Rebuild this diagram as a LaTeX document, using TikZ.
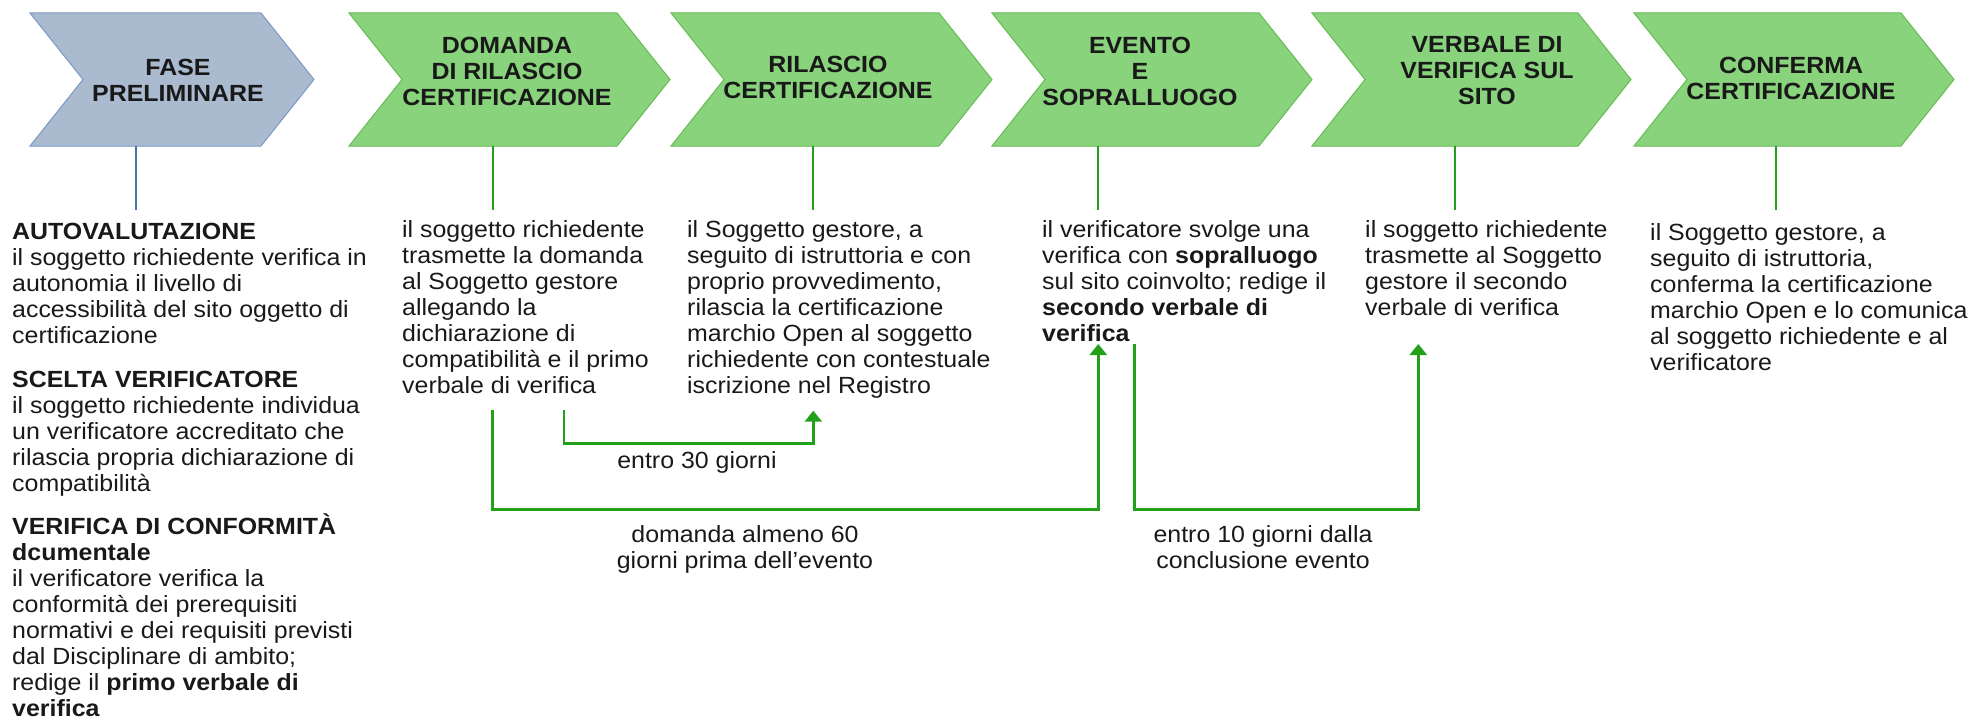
\documentclass[tikz,border=0pt]{standalone}
\usepackage{fontspec}
\setmainfont[FakeStretch=1.065]{Liberation Sans}
\usetikzlibrary{arrows.meta}
\definecolor{chgreen}{HTML}{88D37C}
\definecolor{chgreenb}{HTML}{66BB55}
\definecolor{chblue}{HTML}{AABBCF}
\definecolor{chblueb}{HTML}{7A98C2}
\definecolor{lblue}{HTML}{4A72A8}
\definecolor{lgreen}{HTML}{22A01A}
\newcommand{\bodyfont}{\fontsize{23.4}{26.1}\selectfont}
\newcommand{\leftblock}[1]{\parbox[t]{520pt}{\bodyfont\raggedright #1}}
\newcommand{\midblock}[1]{\parbox[t]{400pt}{\bodyfont\centering #1}}
\newcommand{\chevlabel}[1]{\parbox[t]{320pt}{\fontsize{23.4}{26}\selectfont\centering\bfseries #1}}
\tikzset{
  txt/.style={anchor=base west, inner sep=0pt, text=black!90},
  ctxt/.style={anchor=base, inner sep=0pt, text=black!90},
  chevgreen/.style={fill=chgreen, draw=chgreenb, line width=1pt},
  chevblue/.style={fill=chblue, draw=chblueb, line width=1pt},
  stemg/.style={draw=lgreen, line width=2.2pt},
  stemb/.style={draw=lblue, line width=2.2pt},
  conn/.style={draw=lgreen, line width=2.4pt, -{Triangle[length=11pt,width=17pt]}},
}
\newcommand{\chevpath}[2]{(#1,13) -- ({#1+#2-53},13) -- ({#1+#2},79.5) -- ({#1+#2-53},146) -- (#1,146) -- ({#1+53},79.5) -- cycle}
\begin{document}
\begin{tikzpicture}[x=1pt,y=-1pt]
\useasboundingbox (0,0) rectangle (1975,717);
% chevrons
\path[chevblue] \chevpath{30}{284};
\path[chevgreen] \chevpath{349}{321};
\path[chevgreen] \chevpath{671}{321};
\path[chevgreen] \chevpath{992}{320};
\path[chevgreen] \chevpath{1312}{319};
\path[chevgreen] \chevpath{1634}{320};
% chevron labels
\node[ctxt] (l1) at (178,75) {\chevlabel{FASE\\PRELIMINARE}};
\node[ctxt] (l2) at (507,53) {\chevlabel{DOMANDA\\DI RILASCIO\\CERTIFICAZIONE}};
\node[ctxt] (l3) at (828,73) {\chevlabel{RILASCIO\\CERTIFICAZIONE}};
\node[ctxt] (l4) at (1140,53) {\chevlabel{EVENTO\\E\\SOPRALLUOGO}};
\node[ctxt] (l5) at (1487,52.5) {\chevlabel{VERBALE DI\\VERIFICA SUL\\SITO}};
\node[ctxt] (l6) at (1791,74) {\chevlabel{CONFERMA\\CERTIFICAZIONE}};
% stems
\coordinate (s1t) at (136,146); \coordinate (s1b) at (136,210);
\coordinate (s2t) at (493,146); \coordinate (s2b) at (493,210);
\coordinate (s3t) at (813,146); \coordinate (s3b) at (813,210);
\coordinate (s4t) at (1098,146); \coordinate (s4b) at (1098,210);
\coordinate (s5t) at (1455,146); \coordinate (s5b) at (1455,210);
\coordinate (s6t) at (1776,146); \coordinate (s6b) at (1776,210);
\draw[stemb] (s1t) -- (s1b);
\draw[stemg] (s2t) -- (s2b);
\draw[stemg] (s3t) -- (s3b);
\draw[stemg] (s4t) -- (s4b);
\draw[stemg] (s5t) -- (s5b);
\draw[stemg] (s6t) -- (s6b);
% left column
\node[txt] (ta) at (12,239) {\leftblock{\textbf{AUTOVALUTAZIONE}\\il soggetto richiedente verifica in\\autonomia il livello di\\accessibilità del sito oggetto di\\certificazione}};
\node[txt] (tb) at (12,387) {\leftblock{\textbf{SCELTA VERIFICATORE}\\il soggetto richiedente individua\\un verificatore accreditato che\\rilascia propria dichiarazione di\\compatibilità}};
\node[txt] (tc) at (12,534) {\leftblock{\textbf{VERIFICA DI CONFORMITÀ}\\\textbf{dcumentale}\\il verificatore verifica la\\conformità dei prerequisiti\\normativi e dei requisiti previsti\\dal Disciplinare di ambito;\\redige il \textbf{primo verbale di}\\\textbf{verifica}}};
% other columns
\node[txt] (t2) at (402,237) {\leftblock{il soggetto richiedente\\trasmette la domanda\\al Soggetto gestore\\allegando la\\dichiarazione di\\compatibilità e il primo\\verbale di verifica}};
\node[txt] (t3) at (687,237) {\leftblock{il Soggetto gestore, a\\seguito di istruttoria e con\\proprio provvedimento,\\rilascia la certificazione\\marchio Open al soggetto\\richiedente con contestuale\\iscrizione nel Registro}};
\node[txt] (t4) at (1042,237) {\leftblock{il verificatore svolge una\\verifica con \textbf{sopralluogo}\\sul sito coinvolto; redige il\\\textbf{secondo verbale di}\\\textbf{verifica}}};
\node[txt] (t5) at (1365,237) {\leftblock{il soggetto richiedente\\trasmette al Soggetto\\gestore il secondo\\verbale di verifica}};
\node[txt] (t6) at (1650,240) {\leftblock{il Soggetto gestore, a\\seguito di istruttoria,\\conferma la certificazione\\marchio Open e lo comunica\\al soggetto richiedente e al\\verificatore}};
% connectors
\coordinate (a1) at (492.3,410); \coordinate (b1) at (1098.3,344);
\coordinate (a2) at (564,410);   \coordinate (b2) at (813.3,410.7);
\coordinate (a3) at (1134.3,344); \coordinate (b3) at (1418.3,344);
\draw[conn] (a1) -- ++(0,99.3) -| (b1);
\draw[conn] (a2) -- ++(0,33.3) -| (b2);
\draw[conn] (a3) -- ++(0,165.3) -| (b3);
% connector labels
\node[ctxt] (m1) at (697,468) {\midblock{entro 30 giorni}};
\node[ctxt] (m2) at (745,542.7) {\midblock{domanda almeno 60\\giorni prima dell’evento}};
\node[ctxt] (m3) at (1263,542.7) {\midblock{entro 10 giorni dalla\\conclusione evento}};
\end{tikzpicture}
\end{document}
